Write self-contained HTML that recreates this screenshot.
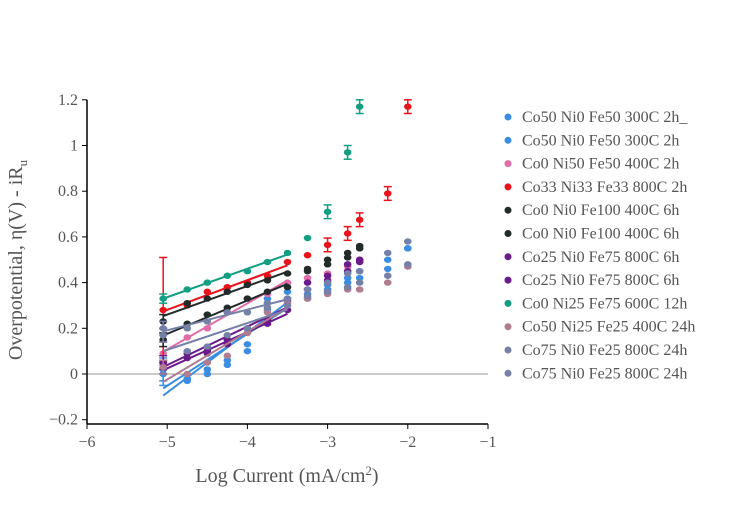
<!DOCTYPE html>
<html><head><meta charset="utf-8"><style>
body{margin:0;background:#fff;}
svg text{font-family:"Liberation Serif",serif;fill:#555;}
</style></head><body>
<svg id="chart" width="750" height="500">
<g id="axes"></g><g id="marks"></g><g id="legend"></g>
</svg>
<script>
const seriesNames=["Co50 Ni0 Fe50 300C 2h_","Co50 Ni0 Fe50 300C 2h","Co0 Ni50 Fe50 400C 2h","Co33 Ni33 Fe33 800C 2h","Co0 Ni0 Fe100 400C 6h","Co0 Ni0 Fe100 400C 6h","Co25 Ni0 Fe75 800C 6h","Co25 Ni0 Fe75 800C 6h","Co0 Ni25 Fe75 600C 12h","Co50 Ni25 Fe25 400C 24h","Co75 Ni0 Fe25 800C 24h","Co75 Ni0 Fe25 800C 24h"];
const seriesColors=["#3a8de0","#3a8de0","#e06ca8","#e8141b","#222a2a","#222a2a","#6a1a8a","#6a1a8a","#119e82","#b07c8e","#7580a8","#7580a8"];
const xTicks=[-6,-5,-4,-3,-2,-1];
const yTicks=[-0.2,0,0.2,0.4,0.6,0.8,1,1.2];
const xs0=[-5.05,-4.75,-4.5,-4.25,-4,-3.75,-3.5,-3.25,-3,-2.75,-2.6,-2.25,-2];
const s0=[0.0,-0.03,0.0,0.04,0.1,0.33,0.36,0.33,0.37,0.4,0.42,0.46,0.55];
const s1=[0.02,-0.02,0.02,0.06,0.13,0.28,0.33,0.35,0.39,0.42,0.45,0.5,0.55];
const s2=[0.09,0.16,0.2,0.27,0.33,0.35,0.4,0.42,0.44,0.47,0.5,null,null];
const s3=[0.28,0.3,0.36,0.38,0.4,0.43,0.49,0.52,0.565,0.615,0.675,0.79,1.17];
const s4=[0.23,0.31,0.33,0.36,0.39,0.41,0.44,0.46,0.5,0.53,0.56,null,null];
const s5=[0.15,0.22,0.26,0.29,0.33,0.36,0.38,0.45,0.48,0.51,0.55,null,null];
const s6=[0.05,0.09,0.1,0.15,0.2,0.24,0.32,0.4,0.43,0.48,0.5,null,null];
const s7=[0.03,0.07,0.09,0.13,0.18,0.22,0.28,0.37,0.41,0.45,0.49,null,null];
const s8=[0.33,0.37,0.4,0.43,0.45,0.49,0.53,0.595,0.71,0.97,1.17,null,null];
const s9=[0.03,0.0,0.05,0.08,0.18,0.27,0.31,0.33,0.35,0.37,0.37,0.4,0.47];
const s10=[0.2,0.2,0.23,0.27,0.27,0.31,0.33,0.37,0.4,0.44,0.45,0.53,0.58];
const s11=[0.17,0.1,0.12,0.17,0.2,0.29,0.3,0.34,0.36,0.38,0.4,0.43,0.48];
const seriesVals=[s0,s1,s2,s3,s4,s5,s6,s7,s8,s9,s10,s11];
const errs=[0.05,0.05,0.05,0.23,0.03,0.03,0.03,0.03,0.02,0.03,0.03,0.03];

const X=v=>87+(v+6)*80.2;
const Y=v=>374-v*228.5;
const NS="http://www.w3.org/2000/svg";
function mk(p,t,a){const e=document.createElementNS(NS,t);for(const k in a)e.setAttribute(k,a[k]);p.appendChild(e);return e;}
const axes=document.getElementById('axes'),marks=document.getElementById('marks'),leg=document.getElementById('legend');
let z=mk(axes,'line',{x1:X(-6),x2:X(-1),y1:Y(0),y2:Y(0),stroke:'#999','stroke-width':1});


let ya=mk(axes,'line',{x1:87,x2:87,y1:Y(1.2),y2:424,stroke:'#000','stroke-width':1.5});


let xa=mk(axes,'line',{x1:86.5,x2:X(-1),y1:424,y2:424,stroke:'#000','stroke-width':1.5});


xTicks.forEach(v=>{mk(axes,'line',{x1:X(v),x2:X(v),y1:424,y2:429,stroke:'#000'});
 const t=mk(axes,'text',{x:X(v),y:447,'text-anchor':'middle','font-size':16});t.textContent='\u2212'+Math.abs(v);
 
 });
yTicks.forEach(v=>{mk(axes,'line',{x1:82,x2:87,y1:Y(v),y2:Y(v),stroke:'#000'});
 const t=mk(axes,'text',{x:78,y:Y(v)+5,'text-anchor':'end','font-size':16});t.textContent=(v<0?'\u2212':'')+String(Math.abs(v));
 
 });
let xt=mk(axes,'text',{x:287,y:482,'text-anchor':'middle','font-size':20});
xt.innerHTML='Log Current (mA/cm<tspan dy="-7" font-size="13">2</tspan><tspan dy="7">)</tspan>';


let yt=mk(axes,'text',{x:0,y:0,'text-anchor':'middle','font-size':20,transform:'translate(22,260) rotate(-90)'});
yt.innerHTML='Overpotential, η(V) - iR<tspan dy="5" font-size="13">u</tspan>';



seriesVals.forEach((vals,i)=>{
 const c=seriesColors[i];
 const g=mk(marks,'g',{});
 
 
 let n=0,sx=0,sy=0,sxx=0,sxy=0;
 xs0.forEach((x,j)=>{const v=vals[j];if(v!=null&&x>=-5.06&&x<=-3.5){n++;sx+=x;sy+=v;sxx+=x*x;sxy+=x*v;}});
 const b=(n*sxy-sx*sy)/(n*sxx-sx*sx),a=(sy-b*sx)/n;
 const fl=mk(g,'line',{x1:X(-5.05),y1:Y(a+b*-5.05),x2:X(-3.5),y2:Y(a+b*-3.5),stroke:c,'stroke-width':2});
 
 
 xs0.forEach((x,j)=>{const v=vals[j];if(v==null)return;
  const e=(j==0)?errs[i]:(j>=8&&(i==3||i==8))?0.03:0.008;
  if(e>0.01){mk(g,'line',{x1:X(x),x2:X(x),y1:Y(v-e),y2:Y(v+e),stroke:c,'stroke-width':1.5});
   mk(g,'line',{x1:X(x)-4,x2:X(x)+4,y1:Y(v-e),y2:Y(v-e),stroke:c,'stroke-width':1.5});
   mk(g,'line',{x1:X(x)-4,x2:X(x)+4,y1:Y(v+e),y2:Y(v+e),stroke:c,'stroke-width':1.5});}
  const p=mk(g,'ellipse',{cx:X(x),cy:Y(v),rx:3.8,ry:3.2,fill:c});
  
  });
});
seriesNames.forEach((nm,i)=>{
 const y=117+i*23.3;
 const g=mk(leg,'g',{});
 
 
 mk(g,'circle',{cx:508,cy:y,r:3.5,fill:seriesColors[i]});
 const t=mk(g,'text',{x:522,y:y+5,'font-size':16});t.textContent=nm;
});
</script>
</body></html>
